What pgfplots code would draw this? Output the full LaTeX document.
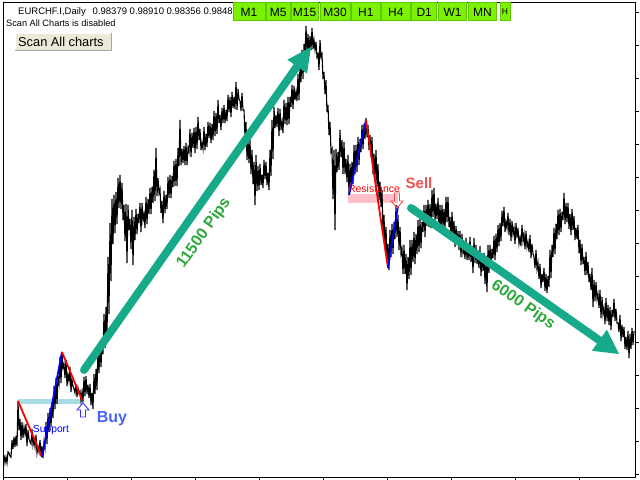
\documentclass[border=0pt]{standalone}
\usepackage{pgfplots}
\usepackage{pgfplotstable}
\pgfplotsset{compat=1.18}
\usepackage{fontspec}
\setmainfont{Liberation Sans}

\definecolor{trendteal}{RGB}{22,170,138}
\definecolor{pipsgreen}{RGB}{46,168,60}
\definecolor{tfgreen}{RGB}{124,242,0}
\definecolor{tfborder}{RGB}{92,200,0}
\definecolor{buyblue}{RGB}{72,100,240}
\definecolor{sellred}{RGB}{240,80,80}
\definecolor{supportband}{RGB}{170,220,228}
\definecolor{resistband}{RGB}{255,190,200}
\definecolor{btnbeige}{RGB}{236,233,216}
\definecolor{zzred}{RGB}{255,0,0}
\definecolor{zzblue}{RGB}{0,0,255}

% timeframe button: left, right, centre, label
\newcommand{\tfbutton}[4]{%
  \filldraw[fill=tfgreen, draw=tfborder, line width=0.8bp]
    (axis cs:#1,2.7) rectangle (axis cs:#2,20.7);
  \node[font=\fontsize{12bp}{14bp}\selectfont, inner sep=0pt, anchor=base]
    at (axis cs:#3,16.5) {#4};%
}

% EURCHF daily bars, high/low alternating (screen units, y grows downward)
\pgfplotstableread{
x y
4 455
5 463
6 457
7 463
8 452
9 453
10 456
11 457
12 440
13 449
14 437
15 447
16 436
17 446
18 401
19 430
20 419
21 440
22 422
23 438
24 427
25 434
26 424
27 446
28 430
29 439
30 442
31 444
32 429
33 445
34 439
35 447
36 435
37 453
38 447
39 452
40 440
41 456
42 446
43 458
44 442
45 448
46 422
47 444
48 413
49 432
50 408
51 427
52 403
53 418
54 386
55 409
56 378
57 404
58 378
59 384
60 357
61 383
62 352
63 368
64 364
65 378
66 360
67 386
68 375
69 381
70 367
71 392
72 380
73 386
74 389
75 393
76 384
77 397
78 388
79 393
80 391
81 401
82 392
83 402
84 377
85 396
86 376
87 394
88 385
89 398
90 384
91 405
92 393
93 409
94 374
95 394
96 369
97 390
98 346
99 373
100 342
101 367
102 343
103 354
104 314
105 348
106 307
107 338
108 257
109 314
110 223
111 281
112 199
113 244
114 195
115 233
116 192
117 224
118 178
119 208
120 175
121 209
122 183
123 220
124 205
125 241
126 204
127 263
128 205
129 230
130 219
131 249
132 210
133 265
134 217
135 240
136 209
137 234
138 214
139 223
140 203
141 232
142 203
143 220
144 214
145 228
146 197
147 224
148 199
149 214
150 188
151 214
152 187
153 203
154 170
155 201
156 148
157 196
158 178
159 193
160 189
161 213
162 201
163 223
164 191
165 213
166 195
167 209
168 177
169 198
170 175
171 198
172 176
173 187
174 161
175 186
176 159
177 186
178 148
179 166
180 120
181 165
182 149
183 163
184 146
185 165
186 143
187 165
188 148
189 152
190 129
191 157
192 133
193 148
194 128
195 153
196 127
197 149
198 117
199 140
200 129
201 150
202 143
203 149
204 127
205 150
206 134
207 147
208 122
209 138
210 123
211 143
212 124
213 140
214 111
215 136
216 113
217 134
218 100
219 123
220 115
221 130
222 108
223 123
224 105
225 123
226 110
227 121
228 95
229 112
230 97
231 117
232 92
233 108
234 97
235 109
236 82
237 110
238 89
239 99
240 101
241 111
242 93
243 110
244 110
245 137
246 122
247 160
248 140
249 163
250 140
251 174
252 150
253 184
254 162
255 205
256 155
257 191
258 166
259 190
260 164
261 185
262 175
263 188
264 160
265 179
266 162
267 185
268 173
269 190
270 150
271 176
272 120
273 159
274 107
275 128
276 115
277 127
278 108
279 136
280 109
281 130
282 122
283 133
284 100
285 124
286 103
287 125
288 97
289 124
290 97
291 107
292 85
293 109
294 86
295 100
296 92
297 101
298 74
299 100
300 65
301 82
302 50
303 79
304 44
305 58
306 26
307 52
308 34
309 56
310 36
311 50
312 28
313 49
314 40
315 50
316 42
317 57
318 54
319 70
320 40
321 57
322 54
323 79
324 72
325 94
326 80
327 112
328 105
329 135
330 122
331 152
332 149
333 199
334 150
335 230
336 149
337 172
338 152
339 170
340 130
341 157
342 140
343 174
344 142
345 174
346 159
347 182
348 155
349 195
350 164
351 187
352 162
353 184
354 145
355 174
356 145
357 172
358 137
359 165
360 139
361 152
362 125
363 149
364 124
365 139
366 118
367 137
368 125
369 150
370 135
371 157
372 137
373 174
374 154
375 179
376 150
377 187
378 164
379 200
380 182
381 207
382 190
383 234
384 215
385 249
386 227
387 262
388 244
389 270
390 230
391 257
392 224
393 254
394 222
395 239
396 205
397 237
398 215
399 250
400 227
401 254
402 249
403 274
404 245
405 274
406 254
407 290
408 257
409 279
410 240
411 275
412 240
413 262
414 232
415 264
416 234
417 254
418 220
419 252
420 219
421 248
422 222
423 232
424 205
425 237
426 205
427 226
428 200
429 227
430 204
431 228
432 190
433 217
434 188
435 221
436 204
437 219
438 198
439 227
440 205
441 232
442 205
443 227
444 209
445 229
446 197
447 222
448 197
449 227
450 217
451 238
452 212
453 236
454 221
455 247
456 226
457 244
458 231
459 250
460 231
461 257
462 234
463 253
464 248
465 259
466 238
467 260
468 246
469 260
470 237
471 262
472 246
473 273
474 238
475 263
476 245
477 264
478 255
479 268
480 246
481 276
482 254
483 271
484 253
485 284
486 265
487 292
488 245
489 273
490 245
491 267
492 249
493 258
494 236
495 260
496 234
497 252
498 225
499 246
500 223
501 241
502 211
503 226
504 207
505 232
506 222
507 228
508 213
509 235
510 219
511 241
512 221
513 234
514 228
515 244
516 223
517 238
518 228
519 244
520 238
521 246
522 225
523 241
524 234
525 249
526 231
527 247
528 242
529 252
530 235
531 258
532 244
533 254
534 257
535 268
536 250
537 269
538 263
539 279
540 264
541 288
542 274
543 282
544 268
545 291
546 274
547 293
548 276
549 287
550 250
551 278
552 245
553 257
554 228
555 254
556 224
557 239
558 210
559 235
560 209
561 232
562 212
563 220
564 193
565 224
566 203
567 222
568 203
569 229
570 214
571 235
572 209
573 230
574 216
575 240
576 228
577 239
578 225
579 253
580 240
581 265
582 244
583 264
584 257
585 275
586 252
587 275
588 262
589 282
590 274
591 290
592 268
593 307
594 280
595 301
596 282
597 299
598 294
599 308
600 290
601 318
602 297
603 314
604 308
605 324
606 298
607 321
608 305
609 325
610 307
611 330
612 310
613 317
614 299
615 321
616 309
617 323
618 323
619 332
620 315
621 341
622 325
623 337
624 327
625 349
626 337
627 350
628 331
629 358
630 334
631 349
632 328
633 345
634 331
}\pricedata

\begin{document}
\begin{tikzpicture}
\useasboundingbox (0,0) rectangle (640bp,480bp);
\begin{axis}[
  at={(3bp,3bp)}, anchor=south west,
  width=632.5bp, height=474.3bp, scale only axis,
  xmin=3, xmax=635.5, ymin=2.7, ymax=477,
  y dir=reverse,
  clip=false,
  axis line style={line width=0.8bp},
  xtick={3,67,...,579}, ytick={12,45,...,474},
  xticklabels={}, yticklabels={},
  xtick pos=left, ytick pos=right,
  tick align=outside, major tick length=3bp,
  tick style={black, line width=0.8bp},
]
% support / resistance zones
\fill[supportband] (axis cs:18,399) rectangle (axis cs:83,404);
\fill[resistband] (axis cs:348,194) rectangle (axis cs:398,203);

% price
\addplot[black, line width=1.1bp, mark=none] table[x=x, y=y] {\pricedata};

% zigzag legs
\addplot[zzred, line width=1.8bp, mark=none] coordinates {(18,401) (42,457)};
\addplot[zzblue, line width=1.8bp, mark=none] coordinates {(42,457) (62,352)};
\addplot[zzred, line width=1.8bp, mark=none] coordinates {(62,352) (82,400)};
\addplot[zzblue, line width=1.8bp, mark=none] coordinates {(349,195) (366,120)};
\addplot[zzred, line width=1.8bp, mark=none] coordinates {(366,120) (388,268)};
\addplot[zzblue, line width=1.8bp, mark=none] coordinates {(388,268) (398,206)};

% trend arrows
\draw[trendteal, line width=8bp, line cap=round] (axis cs:84,370) -- (axis cs:298,65);
\fill[trendteal] (axis cs:311,47) -- (axis cs:307,73.5) -- (axis cs:287.4,59.7) -- cycle;
\draw[trendteal, line width=8bp, line cap=round] (axis cs:411,208) -- (axis cs:601,341.5);
\fill[trendteal] (axis cs:619,354) -- (axis cs:591.9,350.8) -- (axis cs:606.9,329.6) -- cycle;

\node[pipsgreen, rotate=55, font=\bfseries\fontsize{16bp}{18bp}\selectfont] at (axis cs:204,233) {11500 Pips};
\node[pipsgreen, rotate=-35, font=\bfseries\fontsize{16bp}{18bp}\selectfont] at (axis cs:523,305) {6000 Pips};

% signal arrows and labels
\draw[zzblue!80!white, line width=0.9bp, fill=white]
  (axis cs:83,403) -- (axis cs:89,410) -- (axis cs:85.5,410) -- (axis cs:85.5,417)
  -- (axis cs:80.5,417) -- (axis cs:80.5,410) -- (axis cs:77,410) -- cycle;
\draw[sellred, line width=0.9bp]
  (axis cs:397,208) -- (axis cs:403,201) -- (axis cs:399.5,201) -- (axis cs:399.5,193)
  -- (axis cs:394.5,193) -- (axis cs:394.5,201) -- (axis cs:391,201) -- cycle;
\node[zzblue, font=\fontsize{10.3bp}{12bp}\selectfont, inner sep=0pt] at (axis cs:51,430) {Support};
\node[buyblue, font=\bfseries\fontsize{16bp}{18bp}\selectfont, inner sep=0pt] at (axis cs:112,419) {Buy};
\node[zzred, font=\fontsize{10.5bp}{12bp}\selectfont, inner sep=0pt] at (axis cs:374,189) {Resistance};
\node[sellred, font=\bfseries\fontsize{15bp}{18bp}\selectfont, inner sep=0pt] at (axis cs:419,183) {Sell};

% header texts
\node[anchor=base west, inner sep=0pt, font=\fontsize{9.5bp}{11bp}\selectfont] at (axis cs:18,15)
  {EURCHF.I,Daily\hspace{7bp}0.98379 0.98910 0.98356 0.98486};
\node[anchor=base west, inner sep=0pt, font=\fontsize{9.2bp}{11bp}\selectfont] at (axis cs:6,27)
  {Scan All Charts is disabled};
\fill[btnbeige] (axis cs:15,33.5) rectangle (axis cs:111.5,50);
\draw[white, line width=0.8bp] (axis cs:15,50) -- (axis cs:15,33.5) -- (axis cs:111.5,33.5);
\draw[black!35, line width=0.8bp] (axis cs:15,50) -- (axis cs:111.5,50) -- (axis cs:111.5,33.5);
\node[anchor=base west, inner sep=0pt, font=\fontsize{12.8bp}{14bp}\selectfont] at (axis cs:18,46.5)
  {Scan All charts};

% timeframe buttons
\tfbutton{233}{265}{249}{M1}
\tfbutton{266.5}{290}{278.2}{M5}
\tfbutton{291}{318.3}{304.6}{M15}
\tfbutton{320}{350}{335}{M30}
\tfbutton{351.7}{380}{365.8}{H1}
\tfbutton{381.7}{410}{395.8}{H4}
\tfbutton{411.7}{436.7}{424.2}{D1}
\tfbutton{438.3}{466.7}{452.5}{W1}
\tfbutton{468.3}{496.7}{482.5}{MN}
\filldraw[fill=tfgreen, draw=tfborder, line width=0.8bp]
  (axis cs:500,2.7) rectangle (axis cs:510,20.7);
\node[font=\fontsize{8.5bp}{10bp}\selectfont, inner sep=0pt, anchor=base] at (axis cs:505,14.5) {H};
\end{axis}
\end{tikzpicture}
\end{document}
